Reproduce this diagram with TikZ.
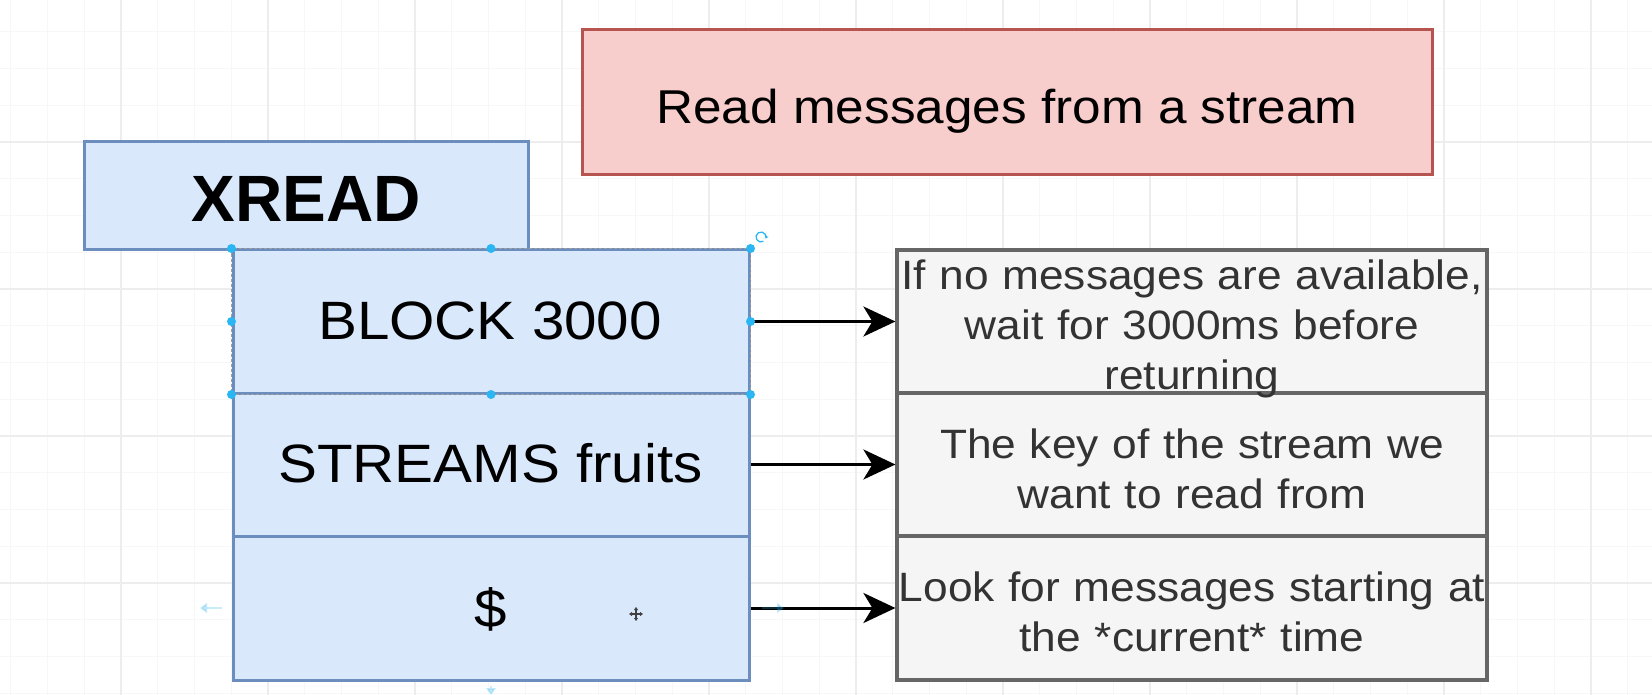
\documentclass[tikz,border=0pt]{standalone}
\usepackage{fontspec}
\setmainfont[FakeStretch=1.08]{Liberation Sans}
\newfontfamily\plainsans{Liberation Sans}
\usetikzlibrary{arrows.meta}
\definecolor{bluefill}{HTML}{DAE8FC}
\definecolor{bluedraw}{HTML}{6C8EBF}
\definecolor{redfill}{HTML}{F8CECC}
\definecolor{reddraw}{HTML}{B85450}
\definecolor{grayfill}{HTML}{F5F5F5}
\definecolor{graydraw}{HTML}{666666}
\definecolor{graytext}{HTML}{333333}
\definecolor{handlecol}{HTML}{29B6F2}
\tikzset{
  minorgrid/.style={draw=black!3, line width=1pt},
  majorgrid/.style={draw=black!7, line width=1.1pt},
  bluebox/.style={draw=bluedraw, fill=bluefill, line width=3pt, rectangle, inner sep=0pt, minimum width=516pt},
  redbox/.style={draw=reddraw, fill=redfill, line width=3pt, rectangle, inner sep=0pt},
  graybox/.style={draw=graydraw, fill=grayfill, line width=3.2pt, rectangle, inner sep=0pt, minimum width=590pt},
  bigtext/.style={anchor=base, inner sep=0pt, font=\fontsize{54}{64}\selectfont},
  desctext/.style={anchor=base, inner sep=0pt, text width=620pt, align=center, text=graytext,
    font=\fontsize{41}{50}\selectfont},
  conn/.style={draw=black, line width=3pt, -{Stealth[length=32pt, width=30pt, inset=9pt]}},
  handledot/.style={fill=handlecol, draw=none, circle, minimum size=9pt, inner sep=0pt},
  hoverarrow/.style={draw=handlecol, opacity=0.25, line width=2.5pt, -{Triangle[length=7pt,width=10pt]}}
}
\begin{document}
\begin{tikzpicture}[x=1pt, y=-1pt]
\useasboundingbox (0,0) rectangle (1652,695);
\fill[white] (0,0) rectangle (1652,695);
% canvas grid
\foreach \i in {0,...,45} {
  \draw[minorgrid] ({10.75+\i*36.75},0) -- ({10.75+\i*36.75},695);
}
\foreach \i in {0,...,19} {
  \draw[minorgrid] (0,{-5+\i*36.75}) -- (1652,{-5+\i*36.75});
}
\foreach \i in {0,...,11} {
  \draw[majorgrid] ({121+\i*147},0) -- ({121+\i*147},695);
}
\foreach \i in {0,...,4} {
  \draw[majorgrid] (0,{-5+\i*147}) -- (1652,{-5+\i*147});
}

% title
\node[redbox, minimum width=850pt, minimum height=144.5pt] (title) at (1007,102) {};
\node[anchor=base, inner sep=0pt, font=\fontsize{47.5}{57}\selectfont] (titletext) at (1007,123.3) {Read messages from a stream};

% XREAD
\node[bluebox, minimum width=444pt, minimum height=108pt] (xread) at (306,196) {};
\node[anchor=base, inner sep=0pt, font=\plainsans\fontsize{65.5}{78}\selectfont\bfseries] (xreadtext) at (306.5,221.7) {XREAD};

% stack
\node[bluebox, minimum height=143pt] (block) at (491,321.5) {};
\node[bluebox, minimum height=143pt] (streams) at (491,464.5) {};
\node[bluebox, minimum height=144pt] (dollar) at (491,608) {};
\node[bigtext] (blocktext) at (490,339) {BLOCK 3000};
\node[bigtext] (streamstext) at (490.5,482.5) {STREAMS fruits};
\node[bigtext] (dollartext) at (491,627) {\$};

% descriptions
\node[graybox, minimum height=143pt] (d1) at (1192,321.5) {};
\node[graybox, minimum height=143pt] (d2) at (1192,464.5) {};
\node[graybox, minimum height=144pt] (d3) at (1192,608) {};
\node[desctext] (t1) at (1192,289.3) {If no messages are available,\\wait for 3000ms before\\returning};
\node[desctext] (t2) at (1192,458.3) {The key of the stream we\\want to read from};
\node[desctext] (t3) at (1192,601.7) {Look for messages starting at\\the *current* time};

% connectors
\draw[conn] (block.east) -- (d1.west);
\draw[conn] (streams.east) -- (d2.west);
\draw[conn] (dollar.east) -- (d3.west);

% selection of BLOCK 3000
\draw[gray!75, line width=1.2pt, dash pattern=on 3pt off 2pt]
  (block.north west) rectangle (block.south east);
\foreach \a in {north west, north, north east, west, east, south west, south, south east} {
  \node[handledot] at (block.\a) {};
}
\draw[handlecol, line width=1.3pt, -{Stealth[length=3pt,width=4pt]}]
  (761,237) ++(60:5) arc (60:380:5);

% hover hints on the $ box
\coordinate (hl) at (222,608);
\coordinate (hr) at (762,608);
\coordinate (hb) at (491,686);
\draw[hoverarrow] (hl) -- ++(-22,0);
\draw[hoverarrow] (hr) -- ++(22,0);
\draw[hoverarrow] (hb) -- ++(0,9);

% move cursor
\coordinate (cur) at (636,614);
\draw[black!75, line width=1.2pt, {Triangle[length=3pt,width=4pt]}-{Triangle[length=3pt,width=4pt]}]
  ([xshift=-7pt]cur) -- ([xshift=7pt]cur);
\draw[black!75, line width=1.2pt, {Triangle[length=3pt,width=4pt]}-{Triangle[length=3pt,width=4pt]}]
  ([yshift=-7pt]cur) -- ([yshift=7pt]cur);
\end{tikzpicture}
\end{document}
